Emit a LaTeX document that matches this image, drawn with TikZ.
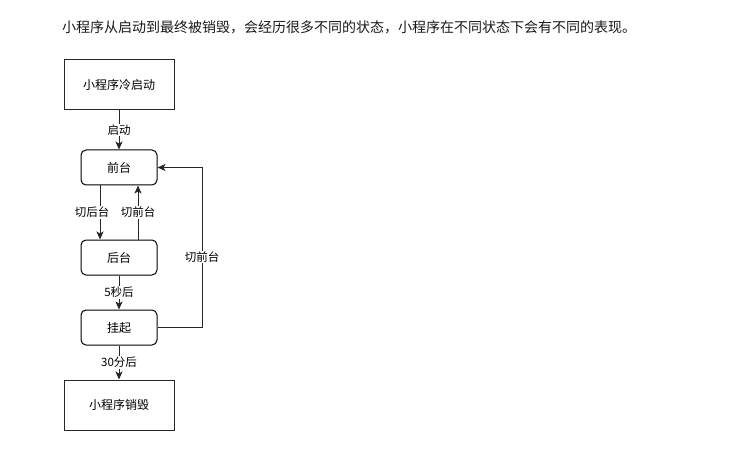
\documentclass[tikz,border=0pt]{standalone}
\usepackage{fontspec}
\setmainfont{Noto Sans CJK SC}
\usetikzlibrary{arrows.meta}
\begin{document}
\begin{tikzpicture}[x=1pt,y=-1pt,
  sqbox/.style={draw=black!85, line width=1pt, minimum width=110pt, minimum height=50pt, inner sep=0pt, font=\fontsize{12}{12}\selectfont},
  rbox/.style={draw=black, line width=1pt, rounded corners=5pt, minimum width=76pt, minimum height=35pt, inner sep=0pt, font=\fontsize{12}{12}\selectfont},
  arr/.style={draw=black!85, line width=1pt, -{Stealth[length=8pt,width=7pt,inset=2pt]}},
  lbl/.style={fill=white, inner sep=1pt, font=\fontsize{11.5}{11.5}\selectfont}]
\useasboundingbox (0,0) rectangle (751,462);
\node[anchor=west, inner sep=0pt, text=black!90, font=\fontsize{14}{14}\selectfont] (title) at (62,27) {小程序从启动到最终被销毁，会经历很多不同的状态，小程序在不同状态下会有不同的表现。};
\node[sqbox] (start) at (119,85) {小程序冷启动};
\node[rbox] (fg) at (119,167.5) {前台};
\node[rbox] (bg) at (119,257.5) {后台};
\node[rbox] (sus) at (119,327.5) {挂起};
\node[sqbox] (end) at (119,405) {小程序销毁};
\coordinate (r) at (202,327.5);
\draw[arr] (start) -- node[lbl]{启动} (fg);
\draw[arr] ([xshift=-19pt]fg.south) -- node[lbl, xshift=-8pt]{切后台} ([xshift=-19pt]bg.north);
\draw[arr] ([xshift=19pt]bg.north) -- node[lbl]{切前台} ([xshift=19pt]fg.south);
\draw[arr] (bg) -- node[lbl]{5秒后} (sus);
\draw[arr] (sus) -- node[lbl]{30分后} (end);
\draw[arr] (sus.east) -- (r) |- node[lbl, pos=0.22]{切前台} (fg.east);
\end{tikzpicture}
\end{document}
